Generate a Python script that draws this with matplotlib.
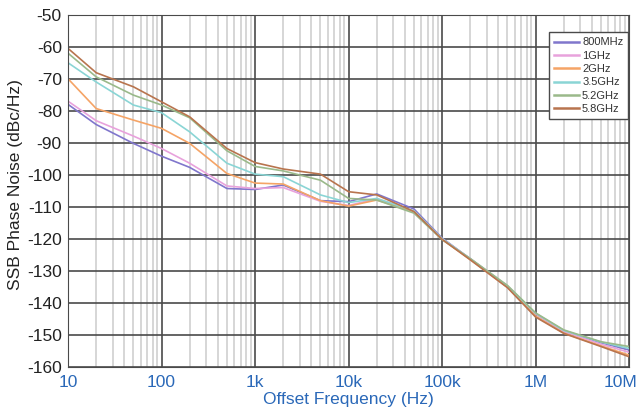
import matplotlib
matplotlib.use("Agg")
import matplotlib.pyplot as plt
import matplotlib.transforms as mtransforms
from matplotlib.ticker import FixedLocator, LogLocator, NullFormatter

plt.rcParams['font.family'] = ['Liberation Sans', 'DejaVu Sans']
plt.rcParams['axes.unicode_minus'] = False

# offset frequencies (Hz)
freq = [10, 20, 50, 100, 200, 500, 1e3, 2e3, 5e3, 1e4, 2e4, 5e4,
        1e5, 2e5, 5e5, 1e6, 2e6, 5e6, 1e7]

# phase noise (dBc/Hz) per carrier
pn_800m = [-78, -84.3, -90.2, -94.2, -97.7, -104.3, -104.6, -103.2, -108.1, -108.4,
           -106, -110.7, -119.8, -126.3, -135, -143.5, -149, -152.5, -154.8]
pn_1g = [-77, -83.1, -87.9, -91.8, -96.4, -103.5, -104.3, -104, -108.3, -109.6,
         -107.5, -111.3, -120, -126.2, -134.8, -143.5, -149, -153, -155.5]
pn_2g = [-70, -79.3, -82.9, -85.5, -90.2, -99.6, -102.6, -102.9, -108.1, -109.8,
         -107.9, -111.5, -120.2, -126.5, -135.2, -144.2, -149.5, -153.5, -156.4]
pn_3g5 = [-65, -71, -78.2, -80.6, -86.6, -96.4, -99.8, -100.6, -106.3, -108.7,
          -107.4, -111.3, -120, -126.3, -134.8, -143.3, -148.7, -152.3, -154.3]
pn_5g2 = [-62, -69.4, -75.1, -78.2, -82.2, -92.5, -97.4, -98.8, -101.7, -107.4,
          -107.9, -112, -120.3, -126.2, -134.6, -143.2, -148.5, -152.2, -153.7]
pn_5g8 = [-60.5, -68.1, -72.5, -77.2, -81.9, -91.8, -96.2, -98.2, -99.8, -105.3,
          -106.3, -111.5, -120.2, -126.6, -135.3, -144.5, -149.6, -153.7, -156.9]

labels = ["800MHz", "1GHz", "2GHz", "3.5GHz", "5.2GHz", "5.8GHz"]
series = [pn_800m, pn_1g, pn_2g, pn_3g5, pn_5g2, pn_5g8]
colours = ["#8076cc", "#e8a2dc", "#f5a466", "#8ad5d5", "#9ab98a", "#b8744e"]

x_ticks = [10, 100, 1e3, 1e4, 1e5, 1e6, 1e7]
x_ticklabels = ["10", "100", "1k", "10k", "100k", "1M", "10M"]
y_ticks = list(range(-160, -40, 10))

blue = "#2a68b8"

fig = plt.figure(figsize=(6.42, 4.12), dpi=100)
ax = fig.add_axes([0.106, 0.110, 0.874, 0.854])

for values, label, colour in zip(series, labels, colours):
    ax.plot(freq, values, color=colour, lw=1.2, label=label)

ax.set_xscale("log")
ax.set_xlim(10, 1e7)
ax.set_ylim(-160, -50)

ax.xaxis.set_major_locator(FixedLocator(x_ticks))
ax.set_xticklabels(x_ticklabels)
ax.xaxis.set_minor_locator(LogLocator(base=10, subs=range(2, 10), numticks=20))
ax.xaxis.set_minor_formatter(NullFormatter())
ax.set_yticks(y_ticks)

# grid
ax.grid(which="major", axis="both", color="#4a4a4a", lw=1.2)
ax.grid(which="minor", axis="x", color="#cfcfcf", lw=1.2)
ax.set_axisbelow(True)

ax.tick_params(axis="x", which="both", length=0, labelsize=12.5, colors=blue, pad=6)
ax.tick_params(axis="y", length=0, labelsize=12.5, colors="#222222", pad=4.5)
for s in ax.spines.values():
    s.set_color("#4a4a4a")

# nudge the last x label in so it stays on the canvas
last = ax.get_xticklabels()[-1]
last.set_transform(last.get_transform() + mtransforms.ScaledTranslation(-6 / 72, 0, fig.dpi_scale_trans))

ax.set_xlabel("Offset Frequency (Hz)", fontsize=12.5, color=blue)
ax.xaxis.set_label_coords(0.5, -0.072)
ax.set_ylabel("SSB Phase Noise (dBc/Hz)", fontsize=12.5, color="#222222")
ax.yaxis.set_label_coords(-0.080, 0.518)

leg = ax.legend(loc="upper right", bbox_to_anchor=(0.9985, 0.95), fontsize=8,
                handlelength=2.2, handletextpad=0.3, labelspacing=0.3,
                fancybox=False, framealpha=1, edgecolor="#4a4a4a",
                borderpad=0.45, borderaxespad=0)
leg.get_frame().set_linewidth(1.0)
for line in leg.get_lines():
    line.set_linewidth(1.8)
for t in leg.get_texts():
    t.set_color("#333333")

fig.savefig("out.png", dpi=100)
